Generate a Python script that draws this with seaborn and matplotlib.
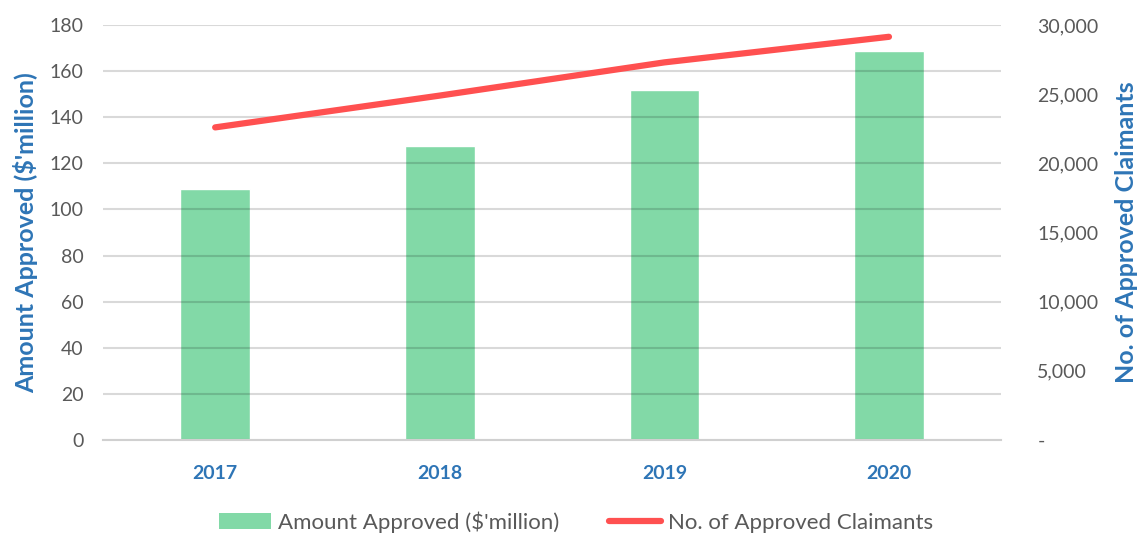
import numpy as np
import pandas as pd
import matplotlib
import matplotlib.pyplot as plt
import seaborn as sns
from matplotlib.ticker import FuncFormatter
from matplotlib.patches import Patch
from matplotlib.lines import Line2D

matplotlib.use("Agg")

years = ["2017", "2018", "2019", "2020"]
amount = [109, 127.5, 152, 168.7]
claimants = [22600, 24900, 27300, 29150]

bar_color = "#82D9A7"
line_color = "#FF5050"
blue = "#2E75B6"
grey = "#595959"

sns.set_theme(style="white")
plt.rcParams["font.family"] = ["Lato", "DejaVu Sans"]

df = pd.DataFrame({"year": years, "amount": amount, "claimants": claimants})

fig = plt.figure(figsize=(11.43, 5.35), dpi=100)
ax = fig.add_axes([0.090, 0.1776, 0.786, 0.7756])

sns.barplot(data=df, x="year", y="amount", color=bar_color, width=0.31,
            saturation=1, ax=ax, zorder=1)
ax.set_ylim(0, 180)
ax.set_yticks(range(0, 181, 20))
ax.set_xlim(-0.5, 3.5)
ax.yaxis.grid(True, color="black", alpha=0.15, linewidth=1.5, zorder=3)
ax.set_axisbelow(False)
for s in ["top", "right", "left"]:
    ax.spines[s].set_visible(False)
ax.spines["bottom"].set_color("#D0D0D0")
ax.spines["bottom"].set_linewidth(1.5)
ax.spines["bottom"].set_zorder(4)
ax.tick_params(axis="y", length=0, labelsize=14, labelcolor=grey, pad=14)
ax.tick_params(axis="x", length=0, labelsize=14, labelcolor=blue, pad=18)
for lb in ax.get_xticklabels():
    lb.set_fontweight("bold")
ax.set_xlabel("")
ax.set_ylabel("Amount Approved ($'million)", color=blue, fontsize=18,
              fontweight="bold", labelpad=8)

ax2 = ax.twinx()
sns.lineplot(x=range(len(years)), y=claimants, color=line_color, linewidth=4.5,
             ax=ax2, solid_capstyle="round")
ax2.set_ylim(0, 30000)
ax2.set_yticks(range(0, 30001, 5000))
ax2.yaxis.set_major_formatter(FuncFormatter(lambda v, p: "-" if v == 0 else f"{int(v):,}"))
for s in ["top", "right", "left", "bottom"]:
    ax2.spines[s].set_visible(False)
ax2.tick_params(axis="y", length=0, labelsize=14, labelcolor=grey, pad=26)
ax2.set_ylabel("No. of Approved Claimants", color=blue, fontsize=18,
               fontweight="bold", labelpad=12)
ax2.grid(False)

handles = [Patch(facecolor=bar_color, edgecolor="none"),
           Line2D([0], [0], color=line_color, linewidth=4.5, solid_capstyle="round")]
labels = ["Amount Approved ($'million)", "No. of Approved Claimants"]
fig.legend(handles, labels, loc="center", bbox_to_anchor=(0.504, 0.024), ncol=2,
           frameon=False, fontsize=16, labelcolor=grey, handlelength=2.35,
           handletextpad=0.3, columnspacing=2.25)

fig.savefig("out.png", dpi=100)
